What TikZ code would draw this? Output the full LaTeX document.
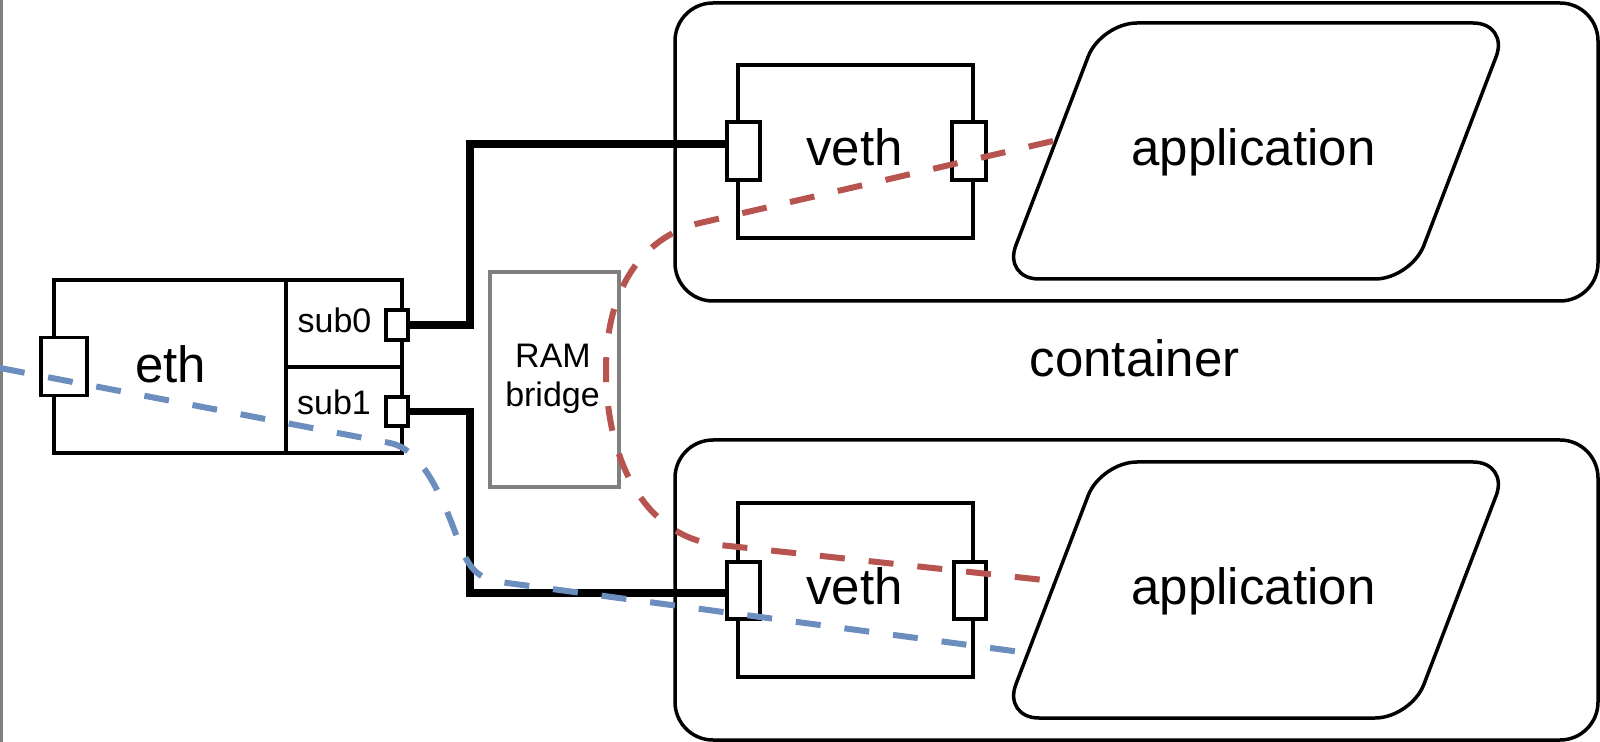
\documentclass[tikz,border=0pt]{standalone}
\usepackage{fontspec}
\setmainfont{Liberation Sans}
\definecolor{redl}{HTML}{B85450}
\definecolor{bluel}{HTML}{6C8EBF}
\definecolor{greyb}{HTML}{808080}
\begin{document}
\begin{tikzpicture}[x=0.5pt,y=-0.5pt,
  box/.style={draw, line width=1.75pt, fill=white, inner sep=0pt, outer sep=0pt, rectangle},
  cont/.style={draw, line width=1.75pt, rounded corners=19pt, inner sep=0pt, outer sep=0pt, rectangle},
  appshape/.style={draw, line width=1.75pt, fill=white, rounded corners=18pt},
  lbl/.style={font=\fontsize{25.5}{30}\selectfont, inner sep=0pt, anchor=base},
  slbl/.style={font=\fontsize{17}{20}\selectfont, inner sep=0pt, anchor=base},
  link/.style={line width=3.9pt},
  flow/.style={line width=3pt, dash pattern=on 12.5pt off 12pt}]
\useasboundingbox (0,0) rectangle (1600,742);
\fill[white] (0,0) rectangle (1600,742);
\draw[greyb, line width=1.4pt] (1.4,0) -- (1.4,742);
% containers
\node[cont, minimum width=461.5pt, minimum height=149pt] (c1) at (1136.5,152) {};
\node[cont, minimum width=461.5pt, minimum height=150pt] (c2) at (1136.5,590) {};
% RAM bridge
\node[box, draw=greyb, minimum width=64.5pt, minimum height=107.5pt] (ram) at (554.5,379.5) {};
% eth
\node[box, minimum width=116pt, minimum height=86.5pt] (eth) at (170,366.5) {};
\node[box, minimum width=58pt, minimum height=43.5pt] (sub0) at (344,323.5) {};
\node[box, minimum width=58pt, minimum height=43pt] (sub1) at (344,410) {};
% veth
\node[box, minimum width=117.5pt, minimum height=86.5pt] (veth1) at (855.5,151.5) {};
\node[box, minimum width=117.5pt, minimum height=87pt] (veth2) at (855.5,590) {};
% applications
\draw[appshape] (1305,23) -- (1509,23) -- (1411,279) -- (1003,279) -- (1101,23) -- cycle;
\draw[appshape] (1305,462) -- (1509,462) -- (1411,718) -- (1003,718) -- (1101,462) -- cycle;
% ports
\node[box, minimum width=11pt, minimum height=15pt] (sub0p) at (397,325) {};
\node[box, minimum width=11pt, minimum height=14.5pt] (sub1p) at (397,411.5) {};
\node[box, minimum width=16.5pt, minimum height=29pt] (v1l) at (743.5,151) {};
\node[box, minimum width=16.5pt, minimum height=28.5pt] (v2l) at (743.5,590.5) {};
% thick links
\coordinate (jt) at (470,144);
\coordinate (jb) at (470,593);
\draw[link] (sub0p.east) -| (jt) -- (jt -| v1l.west);
\draw[link] (sub1p.east) -| (jb) -- (jb -| v2l.west);
\node[box, minimum width=16.5pt, minimum height=29pt] (v1l) at (743.5,151) {};
\node[box, minimum width=16.5pt, minimum height=28.5pt] (v2l) at (743.5,590.5) {};
\node[box, minimum width=17pt, minimum height=29pt] (v1r) at (969,151) {};
\node[box, minimum width=16pt, minimum height=28.5pt] (v2r) at (970,590.5) {};
\node[box, minimum width=23pt, minimum height=29pt] (ethp) at (64,366.5) {};
% dashed flows
\coordinate (rs) at (1053,141);
\coordinate (re) at (1053,581);
\draw[flow, redl] (rs) -- (700,223) .. controls (650,234.5) and (606,280) .. (606,370) .. controls (606,460) and (645,538) .. (720,545) -- (re);
\coordinate (bs) at (0,368);
\coordinate (be) at (1028,653);
\draw[flow, bluel] (bs) -- (390,443) .. controls (420,449) and (440,490) .. (458,540) .. controls (468,568) and (478,579) .. (500,582) -- (be);
% labels
\node[lbl] (ethT) at (170.5,383) {eth};
\node[slbl] (sub0T) at (334.5,333) {sub0};
\node[slbl] (sub1T) at (334,415) {sub1};
\node[slbl] (ramT) at (553,368) {RAM};
\node[slbl] (brT) at (552.5,407) {bridge};
\node[lbl] (veth1T) at (854.5,166) {veth};
\node[lbl] (veth2T) at (854.5,604) {veth};
\node[lbl] (app1T) at (1253.5,166) {application};
\node[lbl] (app2T) at (1253.5,604) {application};
\node[lbl] (contT) at (1134.5,377) {container};
\end{tikzpicture}
\end{document}
